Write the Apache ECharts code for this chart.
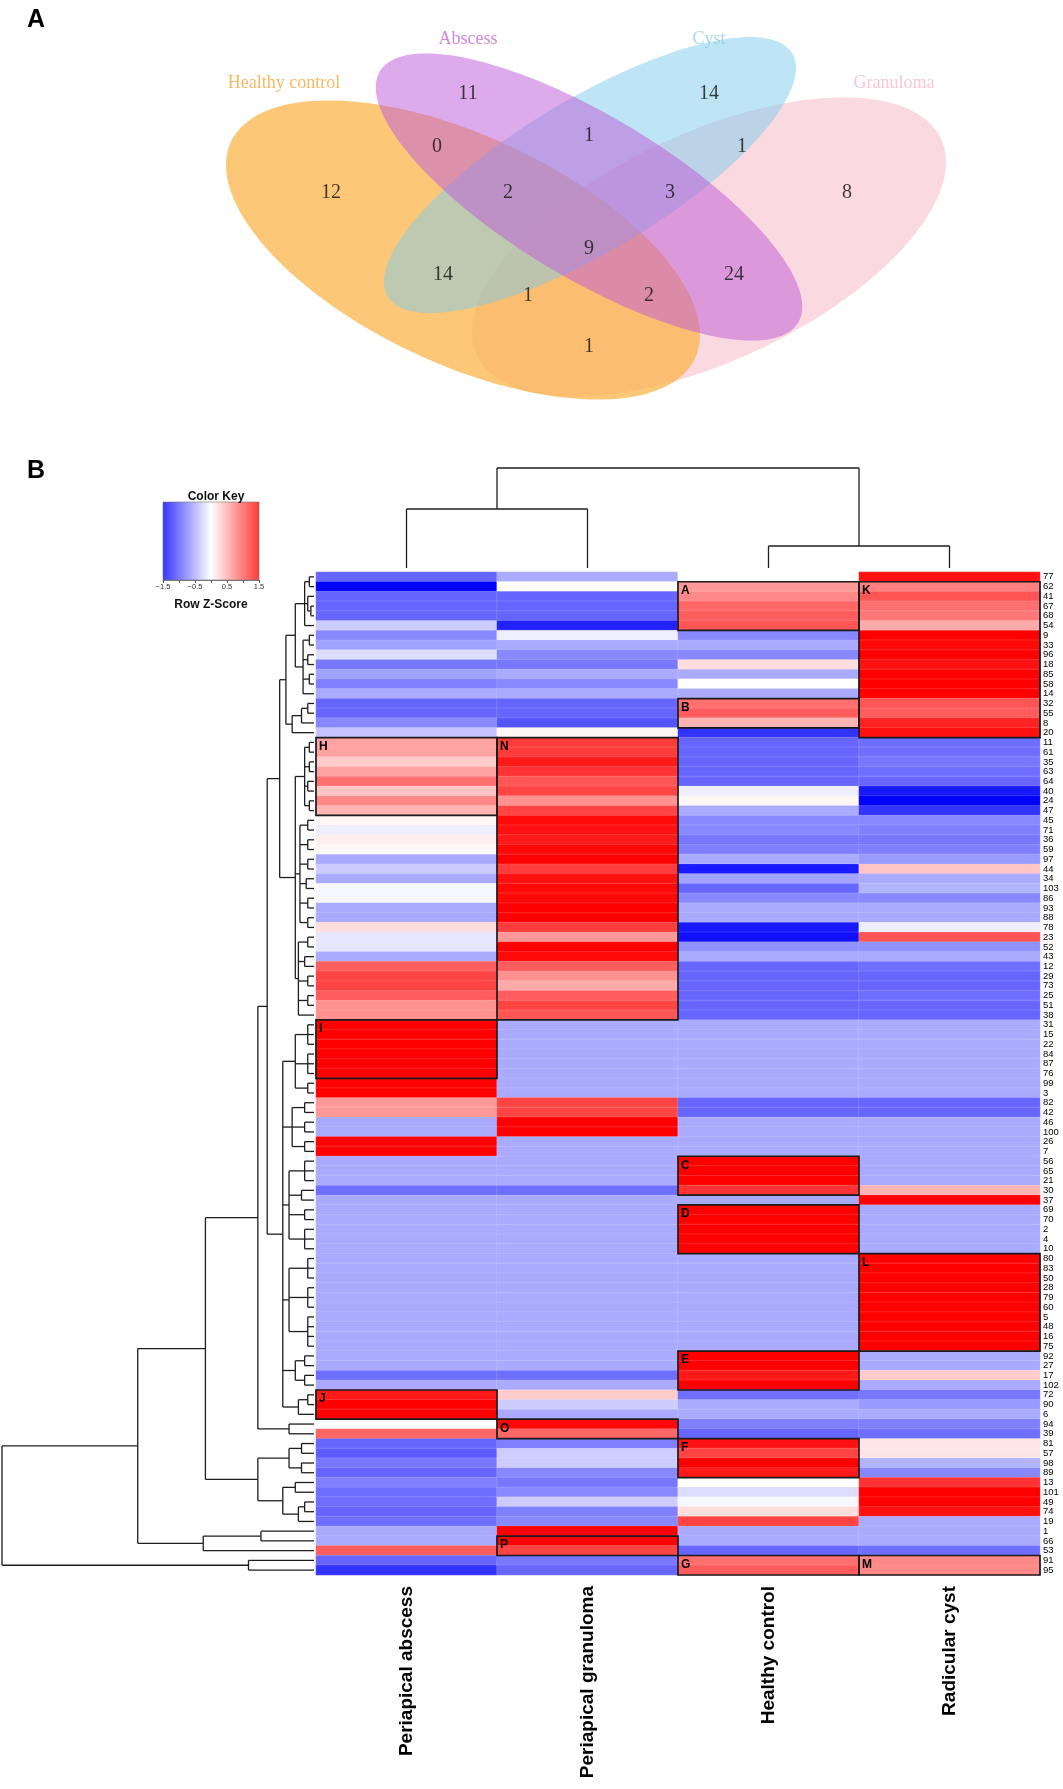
<!DOCTYPE html>
<html><head><meta charset="utf-8">
<script src="https://cdn.jsdelivr.net/npm/echarts@6/dist/echarts.min.js"></script>
<style>html,body{margin:0;padding:0;background:#fff}#c{width:1063px;height:1789px}</style>
</head><body><div id="c"></div>
<script>
// ---------------- DATA ----------------
const colLabels = ['Periapical abscess','Periapical granuloma','Healthy control','Radicular cyst'];
const rowLabels = ['77','62','41','67','68','54','9','33','96','18','85','58','14','32','55','8','20','11','61','35','63','64','40','24','47','45','71','36','59','97','44','34','103','86','93','88','78','23','52','43','12','29','73','25','51','38','31','15','22','84','87','76','99','3','82','42','46','100','26','7','56','65','21','30','37','69','70','2','4','10','80','83','50','28','79','60','5','48','16','75','92','27','17','102','72','90','6','94','39','81','57','98','89','13','101','49','74','19','1','66','53','91','95'];

const abscess = [
-0.9,-1.5,-0.9,-0.9,-0.9,-0.3,-0.7,-0.55,-0.2,-0.8,
-0.55,-0.75,-0.5,-0.9,-0.9,-0.7,-0.35,0.55,0.55,0.3,
0.55,0.85,0.35,0.7,0.45,0.05,-0.1,0.1,0.05,-0.5,
-0.3,-0.5,-0.05,-0.05,-0.5,-0.5,0.2,-0.15,-0.15,-0.5,
0.95,1.1,1.1,0.95,0.65,0.65,1.5,1.5,1.5,1.5,
1.5,1.5,1.5,1.5,0.6,0.6,-0.5,-0.5,1.5,1.5,
-0.5,-0.5,-0.5,-0.85,-0.5,-0.5,-0.5,-0.5,-0.5,-0.5,
-0.5,-0.5,-0.5,-0.5,-0.5,-0.5,-0.5,-0.5,-0.5,-0.5,
-0.5,-0.5,-0.85,-0.5,1.35,1.5,1.5,0.0,0.9,-0.9,
-0.95,-0.8,-0.9,-0.75,-0.85,-0.85,-0.9,-0.85,-0.5,-0.5,
0.95,-0.9,-1.2];
const granuloma = [
-0.5,0.0,-0.9,-0.9,-0.9,-1.3,-0.1,-0.5,-0.7,-0.8,
-0.5,-0.7,-0.5,-0.9,-0.9,-1.0,0.05,1.15,1.15,1.35,
1.2,1.0,1.1,0.65,1.1,1.45,1.4,1.35,1.45,1.5,
1.15,1.4,1.45,1.45,1.5,1.5,1.15,0.6,1.5,1.45,
0.95,0.65,0.5,0.95,1.1,1.0,-0.5,-0.5,-0.5,-0.5,
-0.5,-0.5,-0.5,-0.5,1.1,1.1,1.5,1.5,-0.5,-0.5,
-0.5,-0.5,-0.5,-0.85,-0.5,-0.5,-0.5,-0.5,-0.5,-0.5,
-0.5,-0.5,-0.5,-0.5,-0.5,-0.5,-0.5,-0.5,-0.5,-0.5,
-0.5,-0.5,-0.85,-0.5,0.3,-0.3,-0.5,1.45,0.9,-0.75,
-0.3,-0.3,-0.7,-0.8,-0.7,-0.3,-0.75,-0.7,1.5,1.5,
1.1,-0.8,-0.9];
const healthy = [
0.0,0.6,0.7,0.9,0.95,1.0,-0.7,-0.5,-0.7,0.2,
-0.5,0.0,-0.5,0.85,0.95,0.45,-1.2,-0.9,-0.9,-0.9,
-0.9,-0.9,-0.1,0.05,-0.5,-0.7,-0.7,-0.8,-0.75,-0.5,
-1.35,-0.55,-0.9,-0.7,-0.5,-0.5,-1.35,-1.4,-0.65,-0.5,
-0.9,-0.9,-0.9,-0.9,-0.9,-0.9,-0.5,-0.5,-0.5,-0.5,
-0.5,-0.5,-0.5,-0.5,-0.9,-0.9,-0.5,-0.5,-0.5,-0.5,
1.5,1.5,1.5,1.2,-0.5,1.5,1.5,1.5,1.5,1.5,
-0.5,-0.5,-0.5,-0.5,-0.5,-0.5,-0.5,-0.5,-0.5,-0.5,
1.5,1.5,1.35,1.5,-0.85,-0.5,-0.5,-0.75,-0.9,1.4,
1.1,1.5,1.35,0.0,-0.2,-0.05,0.2,1.1,-0.5,-0.5,
-0.9,0.85,0.95];
const cyst = [
1.4,0.75,1.0,0.85,0.8,0.5,1.5,1.45,1.5,1.4,
1.5,1.5,1.5,1.0,0.95,1.3,1.4,-0.85,-0.85,-0.8,
-0.85,-0.9,-1.35,-1.5,-1.2,-0.7,-0.75,-0.8,-0.75,-0.6,
0.35,-0.5,-0.45,-0.7,-0.5,-0.5,-0.1,1.0,-0.65,-0.5,
-0.85,-0.9,-0.9,-0.85,-0.9,-0.9,-0.5,-0.5,-0.5,-0.5,
-0.5,-0.5,-0.5,-0.5,-0.9,-0.9,-0.5,-0.5,-0.5,-0.5,
-0.5,-0.5,-0.5,0.45,1.5,-0.5,-0.5,-0.5,-0.5,-0.5,
1.5,1.5,1.5,1.5,1.5,1.5,1.5,1.5,1.5,1.5,
-0.5,-0.5,0.3,-0.5,-0.8,-0.6,-0.5,-0.75,-0.85,0.15,
0.15,-0.45,-0.7,1.2,1.5,1.5,1.4,-0.5,-0.5,-0.5,
-0.85,0.7,0.7];

// boxed groups: letter, column index, first row, last row (1-based rows)
const boxLetters = ['A','B','C','D','E','F','G','H','I','J','K','L','M','N','O','P'];
const boxCols    = [2,2,2,2,2,2,2,0,0,0,3,3,3,1,1,1];
const boxFirst   = [2,14,61,66,81,90,102,18,47,85,2,71,102,18,88,100];
const boxLast    = [6,16,64,70,84,93,103,25,52,87,17,80,103,46,89,101];

// dendrograms: [height, child, child, ...]; leaves are 0-based positions
const colTree = [100, [59, 0, 1], [22, 2, 3]];
const topClade = [9, [6, [3, [1.5,0,1], [2,2,[1,3,4]], 5], [3.5, [1.5,6,7], [2,8,9], [1.5,10,11], 12]], [7, [4, [2,13,14], 15], 16]];
const hnClade = [6, [3, [1.5,17,18], [1.5,19,20], [2,21,22], [1.5,23,24]], [4.5, [2,25,26], [2,27,28], [2,29,30], [2.5,31,32], [2,33,34], [2,35,36]], [5, [2,37,38], [3,39,40], [2,41,42], [2,43,44], 45]];
const restClade = [10, [6, [2,46,47,48], [2,49,50,51], [2,52,53]], [7, [3,54,55], [3,56,57], [3,58,59]], [8, [3,60,61,62], [4,63,64], [3,65,66], [3,67,68,69]], [8, [2,70,71,72], [2,73,74,75], [2,76,77,78,79]], [6, [3,80,81], [3,82,83]], [5, [2,84,85], 86]];
const lowClade = [18, [8, [4,89,90], [4,91,92]], [10, [6,93,94], [5, [3,95,96], 97]]];
const rowTree = [100, [56.5, [34.8, [18, [15, [11, topClade, hnClade], restClade], [8,87,88]], lowClade], [35.5, [17,98,99], 100]], [21, 101, 102]];

// Venn
const vennSetNames = ['Healthy control','Abscess','Cyst','Granuloma'];
const vennRegionCounts = [12,11,14,8,0,1,1,2,3,9,14,24,1,2,1];

// ---------------- LAYOUT / STYLE ----------------
const FONT = "'Liberation Sans', Arial, sans-serif";
const SERIF = "'Liberation Serif', 'Times New Roman', serif";
const L = {
  heat: {left:316, top:572, width:724, height:1003},
  rowDend: {left:2, top:572, width:312, height:1003},
  colDend: {left:316, top:468, width:724, height:100},
  key: {left:163, top:502, width:96, height:78},
  venn: {left:0, top:0, width:1063, height:420}
};
const vennShapes = [ // drawing order: granuloma, healthy, cyst, abscess
  {cx:709, cy:247, a:256, b:114, rot:-25, color:'#f9bfcc', op:0.6},
  {cx:463, cy:250, a:256, b:114, rot:25, color:'#fbb243', op:0.72},
  {cx:590, cy:175, a:236, b:76, rot:-31, color:'#7ecbeb', op:0.5},
  {cx:589, cy:197, a:244, b:81, rot:31, color:'#bd5ed9', op:0.52}
];
const vennSetPos = [[284,83],[468,39],[709,39],[894,83]];
const vennSetColors = ['#f3a93a','#c46ad6','#8dd0ea','#f7b8c8'];
const vennRegionPos = [[331,193],[468,94],[709,94],[847,193],[437,147],[589,136],[742,147],[508,193],[670,193],[589,249],[443,275],[734,275],[528,296],[649,296],[589,347]];

// ---------------- BUILD ----------------
function dendroSegments(node, segs){
  if (typeof node === 'number') return {p:node, h:0};
  const h = node[0];
  const kids = node.slice(1).map(k => dendroSegments(k, segs));
  const ps = kids.map(k => k.p);
  const lo = Math.min(...ps), hi = Math.max(...ps);
  segs.push([h, lo, h, hi]);
  kids.forEach(k => segs.push([k.h, k.p, h, k.p]));
  return {p:(lo+hi)/2, h:h};
}
const rowSegs = []; dendroSegments(rowTree, rowSegs);
const colSegsRaw = []; dendroSegments(colTree, colSegsRaw);
const colSegs = colSegsRaw.map(s => [s[1], s[0], s[3], s[2]]);

const columns = [abscess, granuloma, healthy, cyst];
const heatData = [];
columns.forEach((col, c) => col.forEach((v, r) => heatData.push([c, r, v])));
const boxData = boxLetters.map((l, i) => [boxCols[i], boxFirst[i]-1, boxLast[i]-1]);

const lineItem = (params, api) => {
  const a = api.coord([api.value(0), api.value(1)]);
  const b = api.coord([api.value(2), api.value(3)]);
  return {type:'line', shape:{x1:a[0], y1:a[1], x2:b[0], y2:b[1]}, style:{stroke:'#1e1e1e', lineWidth:1.3}};
};

const chart = echarts.init(document.getElementById('c'), null, {width:1063, height:1789});
const g = o => Object.assign({outerBoundsMode:'none', containLabel:false}, o);
const hiddenVal = (gi, min, max, inv) => ({type:'value', gridIndex:gi, min:min, max:max, inverse:!!inv, show:false, splitLine:{show:false}});

chart.setOption({
  animation:false,
  backgroundColor:'#fff',
  title:[
    {text:'A', left:22, top:3, textStyle:{fontSize:25, fontWeight:'bold', fontFamily:FONT, color:'#000'}},
    {text:'B', left:22, top:454, textStyle:{fontSize:25, fontWeight:'bold', fontFamily:FONT, color:'#000'}},
    {text:'Color Key', left:211, top:486, textAlign:'center', textStyle:{fontSize:12, fontWeight:'bold', fontFamily:FONT, color:'#111'}}
  ],
  grid:[g(L.heat), g(L.rowDend), g(L.colDend), g(L.key), g(L.venn)],
  xAxis:[
    {type:'category', gridIndex:0, data:colLabels, position:'bottom',
     axisLine:{show:false}, axisTick:{show:false}, splitLine:{show:false},
     axisLabel:{rotate:90, fontSize:19, fontWeight:'bold', fontFamily:FONT, color:'#000', margin:11}},
    hiddenVal(1, 0, 100, true),
    hiddenVal(2, -0.5, 3.5),
    {type:'value', gridIndex:3, min:-1.5, max:1.5, interval:0.5, position:'bottom',
     axisLine:{show:true, lineStyle:{color:'#555', width:0.8}}, axisTick:{show:true, length:3, lineStyle:{color:'#555'}},
     splitLine:{show:false},
     axisLabel:{fontSize:7.5, color:'#333', fontFamily:FONT, margin:3, showMinLabel:true, showMaxLabel:true,
       formatter: v => ([-1.5,-0.5,0.5,1.5].indexOf(v) >= 0 ? (v < 0 ? '\u2212' : '') + Math.abs(v) : '')},
     name:'Row Z-Score', nameLocation:'middle', nameGap:19,
     nameTextStyle:{fontSize:12, fontWeight:'bold', fontFamily:FONT, color:'#111'}},
    hiddenVal(4, 0, 1063)
  ],
  yAxis:[
    {type:'category', gridIndex:0, data:rowLabels, inverse:true, position:'right',
     axisLine:{show:false}, axisTick:{show:false}, splitLine:{show:false},
     axisLabel:{fontSize:9.5, fontFamily:FONT, color:'#000', margin:3, interval:0}},
    hiddenVal(1, -0.5, 102.5, true),
    hiddenVal(2, 0, 100),
    hiddenVal(3, 0, 1),
    hiddenVal(4, 0, 420, true)
  ],
  visualMap:{show:false, type:'continuous', min:-1.5, max:1.5, seriesIndex:0,
    inRange:{color:['#0000ff','#ffffff','#ff0000']}},
  series:[
    {type:'heatmap', xAxisIndex:0, yAxisIndex:0, data:heatData,
     itemStyle:{borderColor:'rgba(255,255,255,0.28)', borderWidth:0.5}, emphasis:{disabled:true}},
    {type:'custom', xAxisIndex:0, yAxisIndex:0, data:boxData, encode:{x:0, y:1}, z:5,
     renderItem:(params, api) => {
       const c = api.value(0), rs = api.value(1), re = api.value(2);
       const p0 = api.coord([c, rs]), p1 = api.coord([c, re]);
       const sz = api.size([1, 1]);
       const x = p0[0] - sz[0]/2, y = p0[1] - sz[1]/2, w = sz[0], h = p1[1] - p0[1] + sz[1];
       return {type:'group', children:[
         {type:'rect', shape:{x:x, y:y, width:w, height:h}, style:{fill:'none', stroke:'#1a1a1a', lineWidth:1.7}},
         {type:'text', style:{x:x+3, y:y+3, text:boxLetters[params.dataIndex], fill:'#000',
           font:'bold 12px ' + FONT, verticalAlign:'top', align:'left'}}
       ]};
     }},
    {type:'custom', xAxisIndex:1, yAxisIndex:1, data:rowSegs, encode:{x:[0,2], y:[1,3]}, renderItem:lineItem},
    {type:'custom', xAxisIndex:2, yAxisIndex:2, data:colSegs, encode:{x:[0,2], y:[1,3]}, renderItem:lineItem},
    {type:'custom', xAxisIndex:3, yAxisIndex:3, data:[[-1.5, 0, 1.5, 1]], encode:{x:[0,2], y:[1,3]},
     renderItem:(params, api) => {
       const a = api.coord([api.value(0), api.value(3)]);
       const b = api.coord([api.value(2), api.value(1)]);
       return {type:'rect', shape:{x:a[0], y:a[1], width:b[0]-a[0], height:b[1]-a[1]},
         style:{stroke:'#777', lineWidth:0.6, fill:new echarts.graphic.LinearGradient(0,0,1,0,[
           {offset:0, color:'#3636ff'},{offset:0.5, color:'#ffffff'},{offset:1, color:'#ff3a3a'}])}};
     }},
    {type:'custom', xAxisIndex:4, yAxisIndex:4, data:vennShapes.map(s => [s.cx, s.cy]), encode:{x:0, y:1},
     renderItem:(params, api) => {
       const s = vennShapes[params.dataIndex];
       const th = s.rot * Math.PI / 180, pts = [];
       for (let i = 0; i < 160; i++) {
         const t = i / 160 * 2 * Math.PI;
         const x = s.cx + s.a*Math.cos(t)*Math.cos(th) - s.b*Math.sin(t)*Math.sin(th);
         const y = s.cy + s.a*Math.cos(t)*Math.sin(th) + s.b*Math.sin(t)*Math.cos(th);
         pts.push(api.coord([x, y]));
       }
       return {type:'polygon', shape:{points:pts}, style:{fill:s.color, opacity:s.op}};
     }},
    {type:'scatter', xAxisIndex:4, yAxisIndex:4, symbolSize:0, z:6,
     data:vennRegionCounts.map((v, i) => ({value:[vennRegionPos[i][0], vennRegionPos[i][1], v]})),
     label:{show:true, position:'inside', formatter:p => String(p.value[2]), fontSize:20, fontFamily:SERIF, color:'#111'}},
    {type:'scatter', xAxisIndex:4, yAxisIndex:4, symbolSize:0, z:6,
     data:vennSetNames.map((n, i) => ({name:n, value:vennSetPos[i],
       label:{color:vennSetColors[i]}})),
     label:{show:true, position:'inside', formatter:p => p.name, fontSize:18, fontFamily:SERIF}}
  ]
});
</script></body></html>
